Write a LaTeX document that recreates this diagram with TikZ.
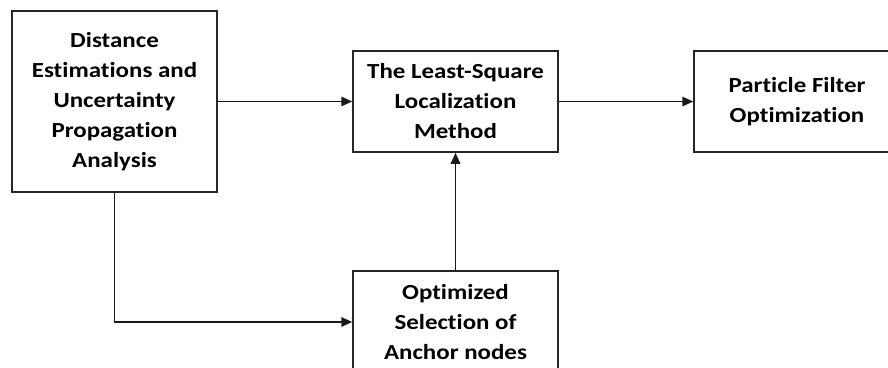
\documentclass[tikz,border=0pt]{standalone}
\usepackage{fontspec}
\setmainfont[Ligatures=NoCommon,FakeStretch=1.16]{Carlito}
\usetikzlibrary{arrows.meta}
\begin{document}
\begin{tikzpicture}[x=1pt,y=-1pt,
  blk/.style={draw=black!85,line width=1.5pt,align=center,inner sep=0pt,
    font=\fontsize{21.5}{30}\selectfont\bfseries},
  conn/.style={draw=black!90,line width=1.5pt,-{Triangle[length=11pt,width=9.5pt]}}]
\useasboundingbox (0,0) rectangle (888,367);
\node[blk,minimum width=205pt,minimum height=181pt] (dist) at (114.5,101.5)
  {Distance\\Estimations and\\Uncertainty\\Propagation\\Analysis};
\node[blk,minimum width=205pt,minimum height=101pt] (ls) at (455.5,101.5)
  {The Least-Square\\Localization\\Method};
\node[blk,minimum width=206pt,minimum height=101pt] (pf) at (797,101.5)
  {Particle Filter\\Optimization};
\node[blk,minimum width=205pt,minimum height=102pt] (anc) at (455.5,322)
  {Optimized\\Selection of\\Anchor nodes};
\draw[conn] (dist.east) -- (ls.west);
\draw[conn] (ls.east) -- (pf.west);
\draw[conn] (anc.north) -- (ls.south);
\draw[conn] (dist.south) |- (anc.west);
\end{tikzpicture}
\end{document}
